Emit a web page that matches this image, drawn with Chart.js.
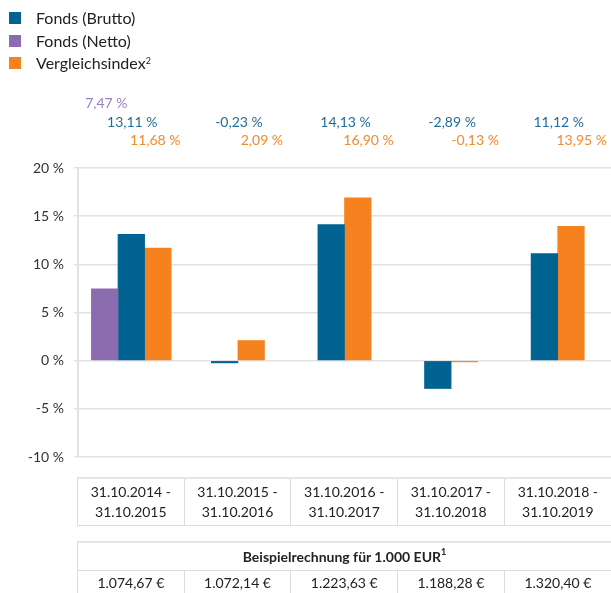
<!DOCTYPE html>
<html>
<head>
<meta charset="utf-8">
<script src="https://cdn.jsdelivr.net/npm/chart.js@4"></script>
<style>
  body { margin: 0; background: #fff; font-family: Lato, "Open Sans", sans-serif; color: #222; }
  #wrap { position: relative; width: 611px; height: 593px; overflow: hidden; }
  #chart { position: absolute; left: 0; top: 0; }
  #legend { position: absolute; left: 9px; top: 7px; font-size: 16px; }
  #legend .item { position: relative; height: 22.5px; line-height: 22px; padding-left: 27px; white-space: nowrap; }
  #legend .box { position: absolute; left: 0; top: 5px; width: 12px; height: 12px; }
  sup { font-size: 9px; vertical-align: top; position: relative; top: -2px; }
  table { position: absolute; left: 77px; width: 534px; border-collapse: collapse; table-layout: fixed; font-size: 14px; }
  td { text-align: center; padding: 0; }
  #dates { top: 477px; }
  #dates td { height: 46px; line-height: 20px; border-left: 1px solid #dcdcdc; border-top: 2px solid #e6e6e6; border-bottom: 1px solid #dcdcdc; }
  #calc { top: 541px; }
  #calc td.head { font-weight: bold; height: 27px; border-top: 2px solid #e6e6e6; border-left: 1px solid #dcdcdc; border-bottom: 1px solid #dcdcdc; }
  #calc td.val { height: 24px; padding-top: 1px; border-left: 1px solid #dcdcdc; vertical-align: top; line-height: 22px; }
</style>
</head>
<body>
<div id="wrap">
  <canvas id="chart" width="611" height="593"></canvas>
  <div id="legend"></div>
  <table id="dates"><tr id="date-row"></tr></table>
  <table id="calc">
    <tr><td class="head" id="calc-head" colspan="5"></td></tr>
    <tr id="calc-row"></tr>
  </table>
</div>
<script>
// --- Data ---
const periodStart = ["31.10.2014", "31.10.2015", "31.10.2016", "31.10.2017", "31.10.2018"];
const periodEnd = ["31.10.2015", "31.10.2016", "31.10.2017", "31.10.2018", "31.10.2019"];
const categories = periodStart.map((s, i) => s + " - " + periodEnd[i]);

const fondsNetto = [7.47, null, null, null, null];
const fondsBrutto = [13.11, -0.23, 14.13, -2.89, 11.12];
const vergleichsindex = [11.68, 2.09, 16.90, -0.13, 13.95];

const yTicks = [20, 15, 10, 5, 0, -5, -10];
const beispielWerte = [1074.67, 1072.14, 1223.63, 1188.28, 1320.40];
const beispielTitel = "Beispielrechnung für 1.000 EUR";

const colors = {
  brutto: "#006391",
  netto: "#8b6daf",
  index: "#f5821f",
};
const labelColors = {
  brutto: "#1f6e98",
  netto: "#9a80c0",
  index: "#f58a2c",
};

// --- Helpers ---
function fmtPct(v) {
  return v.toFixed(2).replace(".", ",") + " %";
}
function fmtEur(v) {
  const parts = v.toFixed(2).split(".");
  const int = parts[0].replace(/\B(?=(\d{3})+(?!\d))/g, ".");
  return int + "," + parts[1] + " €";
}

// --- Legend (HTML) ---
const legendItems = [
  { label: "Fonds (Brutto)", color: colors.brutto },
  { label: "Fonds (Netto)", color: colors.netto },
  { label: "Vergleichsindex", color: colors.index, sup: "2" },
];
const legendEl = document.getElementById("legend");
legendItems.forEach((it) => {
  const div = document.createElement("div");
  div.className = "item";
  div.innerHTML = `<span class="box" style="background:${it.color}"></span>${it.label}${it.sup ? "<sup>" + it.sup + "</sup>" : ""}`;
  legendEl.appendChild(div);
});

// --- Tables below the chart ---
const dateRow = document.getElementById("date-row");
categories.forEach((c, i) => {
  const td = document.createElement("td");
  td.innerHTML = periodStart[i] + " -<br>" + periodEnd[i];
  dateRow.appendChild(td);
});
document.getElementById("calc-head").innerHTML = beispielTitel + "<sup>1</sup>";
const calcRow = document.getElementById("calc-row");
beispielWerte.forEach((v) => {
  const td = document.createElement("td");
  td.className = "val";
  td.textContent = fmtEur(v);
  calcRow.appendChild(td);
});

// --- Value labels above the plot ---
const valueLabels = {
  id: "valueLabels",
  afterDraw(chart) {
    const { ctx, chartArea, scales } = chart;
    const rows = [
      { ds: 0, color: labelColors.netto, dy: -65, dx: -25 },
      { ds: 1, color: labelColors.brutto, dy: -46, dx: 1 },
      { ds: 2, color: labelColors.index, dy: -28, dx: 24 },
    ];
    ctx.save();
    ctx.font = "14px Lato, 'Open Sans', sans-serif";
    ctx.textAlign = "center";
    ctx.textBaseline = "middle";
    rows.forEach((r) => {
      const data = chart.data.datasets[r.ds].data;
      ctx.fillStyle = r.color;
      data.forEach((v, i) => {
        if (v === null) return;
        const x = scales.x.getPixelForValue(i) + r.dx;
        ctx.fillText(fmtPct(v), x, chartArea.top + r.dy);
      });
    });
    ctx.restore();
  },
};

new Chart(document.getElementById("chart"), {
  type: "bar",
  data: {
    labels: categories,
    datasets: [
      { label: "Fonds (Netto)", data: fondsNetto, backgroundColor: colors.netto },
      { label: "Fonds (Brutto)", data: fondsBrutto, backgroundColor: colors.brutto },
      { label: "Vergleichsindex", data: vergleichsindex, backgroundColor: colors.index },
    ],
  },
  options: {
    responsive: false,
    animation: false,
    skipNull: true,
    barThickness: 26.6,
    layout: { padding: { top: 168, bottom: 136, left: 0, right: 0 } },
    plugins: { legend: { display: false }, tooltip: { enabled: false } },
    scales: {
      x: { display: false, grid: { display: false } },
      y: {
        min: yTicks[yTicks.length - 1],
        max: yTicks[0],
        afterBuildTicks: (scale) => {
          scale.ticks = yTicks.map((v) => ({ value: v }));
        },
        afterFit: (scale) => {
          scale.width = 78;
        },
        border: { color: "#e2e2e2", width: 2 },
        grid: { color: "#e2e2e2", lineWidth: 1.5, tickLength: 4 },
        ticks: {
          padding: 10,
          color: "#333",
          font: { family: "Lato, 'Open Sans', sans-serif", size: 14 },
          callback: (v) => v + " %",
        },
      },
    },
  },
  plugins: [valueLabels],
});
</script>
</body>
</html>
